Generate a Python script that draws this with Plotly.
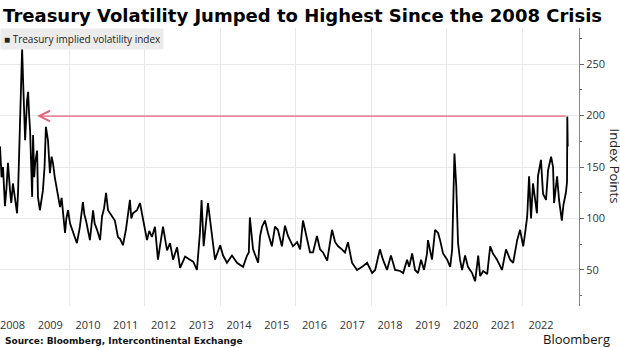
import plotly.graph_objects as go

# ---- data ----
dates = [
    "2008-03-03", "2008-03-18", "2008-04-01", "2008-04-20", "2008-05-05", "2008-05-19", "2008-06-08", "2008-06-20",
    "2008-07-06", "2008-07-25", "2008-08-15", "2008-08-25",
    "2008-09-13", "2008-10-03", "2008-10-12", "2008-10-22", "2008-11-01", "2008-11-20", "2008-11-30", "2008-12-10",
    "2008-12-19",
    "2009-01-08", "2009-01-17", "2009-01-28", "2009-02-06", "2009-02-25", "2009-03-05", "2009-03-24", "2009-04-10",
    "2009-04-22", "2009-05-08", "2009-05-21",
    "2009-06-10", "2009-06-29", "2009-07-15", "2009-07-28", "2009-08-15", "2009-09-06", "2009-09-20", "2009-10-05",
    "2009-10-20", "2009-11-03", "2009-11-22", "2009-12-05", "2009-12-21",
    "2010-01-10", "2010-01-29", "2010-02-20", "2010-03-17", "2010-04-15", "2010-05-14", "2010-05-28", "2010-06-13",
    "2010-07-21", "2010-08-20", "2010-09-05", "2010-09-28",
    "2010-10-27", "2010-11-15", "2010-12-05", "2010-12-24",
    "2011-01-12", "2011-02-20", "2011-03-19", "2011-04-18", "2011-05-10", "2011-06-05", "2011-07-04", "2011-08-12",
    "2011-08-25", "2011-09-10",
    "2011-10-19", "2011-11-17", "2011-12-16",
    "2012-01-24", "2012-02-15", "2012-03-12", "2012-04-10", "2012-05-09", "2012-06-05", "2012-06-27", "2012-08-05",
    "2012-09-03", "2012-10-02",
    "2012-11-10", "2012-12-09",
    "2013-01-27", "2013-03-14", "2013-04-15", "2013-05-21", "2013-06-19", "2013-07-05", "2013-07-25", "2013-09-05",
    "2013-10-14", "2013-11-12",
    "2014-01-01", "2014-01-29", "2014-03-08", "2014-04-25", "2014-06-13", "2014-08-10", "2014-09-18", "2014-10-05",
    "2014-10-15", "2014-11-15",
    "2015-01-03", "2015-01-22", "2015-02-10", "2015-03-10", "2015-04-08", "2015-05-16", "2015-06-15", "2015-07-13",
    "2015-08-21", "2015-09-20", "2015-10-19", "2015-12-06",
    "2016-01-15", "2016-02-13", "2016-03-12", "2016-04-20", "2016-05-19", "2016-06-17", "2016-07-25", "2016-08-24",
    "2016-09-22", "2016-11-01", "2016-12-18",
    "2017-01-17", "2017-02-15", "2017-03-24", "2017-04-22", "2017-05-21", "2017-06-29", "2017-08-17", "2017-10-05",
    "2017-11-22",
    "2018-01-10", "2018-02-08", "2018-03-26", "2018-04-25", "2018-06-03", "2018-07-11", "2018-08-20", "2018-10-08",
    "2018-11-06", "2018-12-14",
    "2019-01-03", "2019-02-01", "2019-03-01", "2019-03-30", "2019-04-28", "2019-05-27", "2019-06-25", "2019-07-04",
    "2019-08-12", "2019-09-11", "2019-10-10", "2019-10-29", "2019-11-27",
    "2020-01-06", "2020-02-04", "2020-02-23", "2020-03-03", "2020-03-16", "2020-04-03", "2020-04-20", "2020-05-09",
    "2020-05-29", "2020-06-27", "2020-07-25", "2020-09-03", "2020-10-02", "2020-11-01", "2020-11-20", "2020-12-19",
    "2021-01-27", "2021-02-25", "2021-03-24", "2021-05-02", "2021-06-19", "2021-07-28", "2021-09-06", "2021-10-05",
    "2021-11-13", "2021-12-11",
    "2022-01-10", "2022-01-29", "2022-02-18", "2022-03-08", "2022-03-27", "2022-04-15", "2022-05-04", "2022-05-23",
    "2022-06-02", "2022-07-01", "2022-07-21", "2022-08-19", "2022-09-08", "2022-10-07", "2022-10-26", "2022-11-05",
    "2022-12-04", "2022-12-23",
    "2023-01-19", "2023-02-03", "2023-02-27", "2023-03-10", "2023-03-13", "2023-03-15", "2023-03-17",
]
move_index = [
    170, 140, 150, 112, 130, 154, 127, 115,
    134, 118, 105, 127,
    208, 265, 235, 205, 176, 215, 223, 200,
    186,
    121, 181, 140, 154, 166, 121, 108, 118,
    127, 150, 189,
    176, 144, 160, 154, 140, 127, 118, 111,
    120, 105, 86, 100, 108,
    95, 89, 84, 76, 92, 116, 104, 98,
    79, 108, 95, 89,
    79, 102, 110, 125,
    108, 102, 98, 82, 80, 74, 89, 118,
    100, 105,
    108, 115, 98,
    79, 88, 82, 92, 60, 78, 92, 69,
    76, 60,
    72, 52,
    63, 60, 58, 50, 86, 118, 73, 115,
    86, 60,
    74, 64, 57, 64, 57, 53, 64, 67,
    101, 70,
    57, 83, 92, 98, 86, 73, 92, 89,
    73, 93, 83, 73,
    77, 70, 98, 80, 67, 67, 83, 70,
    67, 59, 89,
    77, 73, 70, 67, 77, 57, 50, 53,
    57,
    47, 50, 70, 60, 50, 64, 50, 49,
    47, 60,
    53, 66, 50, 47, 60, 50, 66, 79,
    60, 89, 86, 79, 66,
    60, 53, 70, 99, 163, 131, 76, 60,
    50, 64, 53, 47, 39, 64, 44, 49,
    46, 73, 66, 60, 50, 70, 60, 57,
    79, 89,
    73, 86, 102, 141, 100, 134, 121, 105,
    141, 157, 124, 118, 147, 160, 150, 115,
    141, 118,
    98, 113, 125, 135, 199, 180, 170,
]

year_labels = [str(y) for y in range(2008, 2023)]
year_label_pos = [f"{y}-07-02" for y in range(2008, 2023)]
y_ticks = [50, 100, 150, 200, 250]

# arrow: from latest reading back to the 2008 crisis level
arrow_level = 199.5
arrow_head_date = "2009-02-25"
arrow_tail_date = "2023-03-13"

fig = go.Figure()
fig.add_trace(go.Scatter(
    x=dates, y=move_index, mode="lines",
    line=dict(color="#000000", width=1.8),
    name="Treasury implied volatility index", showlegend=False,
))

fig.add_annotation(
    x=arrow_head_date, y=arrow_level, ax=arrow_tail_date, ay=arrow_level,
    xref="x", yref="y", axref="x", ayref="y",
    showarrow=True, arrowhead=5, arrowsize=1.6, arrowwidth=1.3,
    arrowcolor="#e3627c", text="",
)

# legend box
fig.add_annotation(
    xref="paper", yref="paper", x=0, y=1.0, xanchor="left", yanchor="top",
    text="■ Treasury implied volatility index", showarrow=False,
    font=dict(family="Open Sans", size=10, color="#222"),
    bgcolor="#ececec", borderpad=3, width=156, align="left",
)

# right axis title
fig.add_annotation(
    xref="paper", yref="paper", x=1.0, y=0.505, xshift=25, xanchor="left", yanchor="middle",
    text="Index Points", textangle=90, showarrow=False,
    font=dict(family="Open Sans", size=13, color="#222"),
)

# source and logo
fig.add_annotation(
    xref="paper", yref="paper", x=0.0, y=-0.126, xanchor="left", yanchor="middle",
    xshift=3, text="<b>Source: Bloomberg, Intercontinental Exchange</b>", showarrow=False,
    font=dict(family="DejaVu Sans", size=9, color="#111"),
)
fig.add_annotation(
    xref="paper", yref="paper", x=1.0, y=-0.118, xanchor="right", yanchor="middle",
    xshift=33, text="Bloomberg", showarrow=False,
    font=dict(family="Open Sans", size=13, color="#111"),
)

fig.update_layout(
    width=620, height=348,
    margin=dict(l=0, r=41, t=28, b=42),
    paper_bgcolor="white", plot_bgcolor="white",
    title=dict(
        text="<b>Treasury Volatility Jumped to Highest Since the 2008 Crisis</b>",
        x=0.005, xanchor="left", y=1 - 16 / 348, yanchor="middle",
        font=dict(family="DejaVu Sans", size=18, color="#000"),
    ),
    xaxis=dict(
        type="date", range=["2008-03-03", "2023-07-04"],
        tickvals=year_label_pos, ticktext=year_labels,
        ticks="outside", ticklen=9, tickcolor="rgba(0,0,0,0)",
        ticklabeloverflow="allow",
        showgrid=False, zeroline=False, showline=False,
        tickfont=dict(family="Open Sans", size=11, color="#333"),
        minor=dict(dtick="M24", tick0="2010-01-01", showgrid=True,
                   gridcolor="#e8e8e8", gridwidth=1, ticks=""),
    ),
    yaxis=dict(
        side="right", range=[15, 285], tickvals=y_ticks,
        showgrid=True, gridcolor="#e8e8e8", gridwidth=1, zeroline=False,
        showline=True, linecolor="#888", linewidth=1,
        ticks="outside", ticklen=4, tickcolor="#666",
        tickfont=dict(family="Open Sans", size=11, color="#333"),
        minor=dict(dtick=25, tick0=0, ticks="outside", ticklen=2, tickcolor="#666", showgrid=False),
    ),
)

fig.write_html("out.html")
